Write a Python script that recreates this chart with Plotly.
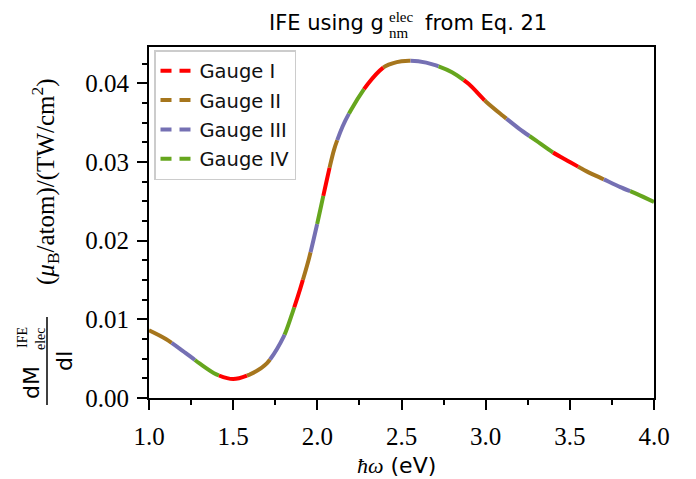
import plotly.graph_objects as go

# ---- data ----
photon_energy_eV = [1.0, 1.1, 1.2, 1.3, 1.4, 1.5, 1.6, 1.7, 1.8, 1.85, 1.9, 1.95,
                    2.0, 2.05, 2.1, 2.15, 2.2, 2.3, 2.4, 2.5, 2.6, 2.7, 2.8, 2.9,
                    3.0, 3.1, 3.2, 3.3, 3.4, 3.5, 3.6, 3.7, 3.8, 3.9, 4.0]
dMdI = [0.0086, 0.0075, 0.0060, 0.0044, 0.0030, 0.0024, 0.0030, 0.0044, 0.0078, 0.0107,
        0.0140, 0.0177, 0.0222, 0.0271, 0.0316, 0.0345, 0.0366, 0.0399, 0.0421, 0.0428,
        0.0428, 0.0423, 0.0414, 0.0399, 0.0377, 0.0359, 0.0342, 0.0327, 0.0312, 0.0300,
        0.0288, 0.0278, 0.0268, 0.0259, 0.0249]
gauge_names = ["Gauge I", "Gauge II", "Gauge III", "Gauge IV"]
gauge_colors = ["#ff0000", "#a6761d", "#7570b3", "#66a61e"]
x_ticks = [1.0, 1.5, 2.0, 2.5, 3.0, 3.5, 4.0]
y_ticks = [0.00, 0.01, 0.02, 0.03, 0.04]

# ---- layout geometry (screen pixels; page body has an 8px margin) ----
W, H = 696, 479
OFF = 8
PLOT_L, PLOT_R, PLOT_T, PLOT_B = 149, 654, 47, 398
PW, PH = PLOT_R - PLOT_L, PLOT_B - PLOT_T
L_M, T_M = PLOT_L - OFF, PLOT_T - OFF
R_M, B_M = W - L_M - PW, H - T_M - PH

def px(xp):
    return (xp - PLOT_L) / PW

def py(yp):
    return (PLOT_B - yp) / PH

# dash pattern: four interleaved dashed lines (on = SEG, off = 3*SEG)
SEG = 28.8
FIRST = 26.0
def dash_for(k):
    if k == 0:
        return f"{FIRST}px,{3*SEG:.1f}px,{SEG-FIRST:.1f}px,0px"
    start = FIRST + (k - 1) * SEG
    return f"0px,{start:.1f}px,{SEG}px,{4*SEG - SEG - start:.1f}px"

# order along the curve: II, III, IV, I
order_along = [1, 2, 3, 0]

fig = go.Figure()
for k, gi in enumerate(order_along):
    fig.add_trace(go.Scatter(
        x=photon_energy_eV, y=dMdI, mode="lines",
        line=dict(color=gauge_colors[gi], width=4, dash=dash_for(k), shape="spline", smoothing=0.8),
        showlegend=False, hoverinfo="skip"))

for i, name in enumerate(gauge_names):
    fig.add_trace(go.Scatter(
        x=[None], y=[None], mode="lines", name=name, legendgroup=name,
        line=dict(color=gauge_colors[i], width=4, dash="11px,8px")))

serif = "Liberation Serif"
sans = "DejaVu Sans"

axis_common = dict(showline=True, linecolor="black", linewidth=2, mirror=True,
                   ticks="outside", ticklen=10, tickwidth=2, tickcolor="black",
                   showgrid=False, zeroline=False,
                   tickfont=dict(family=serif, size=25, color="black"))

fig.update_xaxes(range=[1.0, 4.0], tickvals=x_ticks, ticktext=[f"{v:.1f}" for v in x_ticks],
                 ticklabelstandoff=5,
                 minor=dict(ticks="outside", ticklen=5, tickwidth=2, tickcolor="black", dtick=0.25, tick0=1.0),
                 **axis_common)
fig.update_yaxes(range=[0.0, 0.0446], tickvals=y_ticks, ticktext=[f"{v:.2f}" for v in y_ticks],
                 ticklabelstandoff=3,
                 minor=dict(ticks="outside", ticklen=5, tickwidth=2, tickcolor="black", dtick=0.0025, tick0=0),
                 **axis_common)

ann = []
def add(text, x, y, size, family, angle=0, xanchor="center", yanchor="middle"):
    ann.append(dict(text=text, x=px(x), y=py(y), xref="paper", yref="paper", showarrow=False,
                    textangle=angle, xanchor=xanchor, yanchor=yanchor,
                    font=dict(family=family, size=size, color="black")))

# title
add("IFE using g", 386, 23, 21, sans, xanchor="right")
add("elec", 387, 17, 15, serif, xanchor="left")
add("nm", 387, 33, 15, serif, xanchor="left")
add("from Eq. 21", 423, 23, 21, sans, xanchor="left")

# x label
add(f'<span style="font-family:{serif}"><i>ħω</i></span> (eV)', 396, 466, 22, sans)

# y label (fraction + units)
add("dM", 31, 383, 22, sans, angle=-90)
add("IFE", 22, 338, 14, serif, angle=-90)
add("elec", 40, 339, 14, serif, angle=-90)
add("dI", 64, 361, 22, sans, angle=-90)
add("(<i>μ</i><sub>B</sub>/atom)/(TW/cm<sup>2</sup>)", 45, 182, 25, serif, angle=-90)

fig.update_layout(
    width=W, height=H, margin=dict(l=L_M, r=R_M, t=T_M, b=B_M, autoexpand=False),
    paper_bgcolor="white", plot_bgcolor="white",
    annotations=ann,
    shapes=[dict(type="line", xref="paper", yref="paper", x0=px(47), x1=px(47), y0=py(317), y1=py(405),
                 line=dict(color="black", width=1.5))],
    legend=dict(x=px(154), y=py(50), xanchor="left", yanchor="top",
                bgcolor="rgba(255,255,255,0.8)", bordercolor="#cccccc", borderwidth=1.5,
                font=dict(family=sans, size=19.5, color="#111111"), traceorder="grouped",
                tracegroupgap=1, itemwidth=34),
)

fig.write_html("out.html")
